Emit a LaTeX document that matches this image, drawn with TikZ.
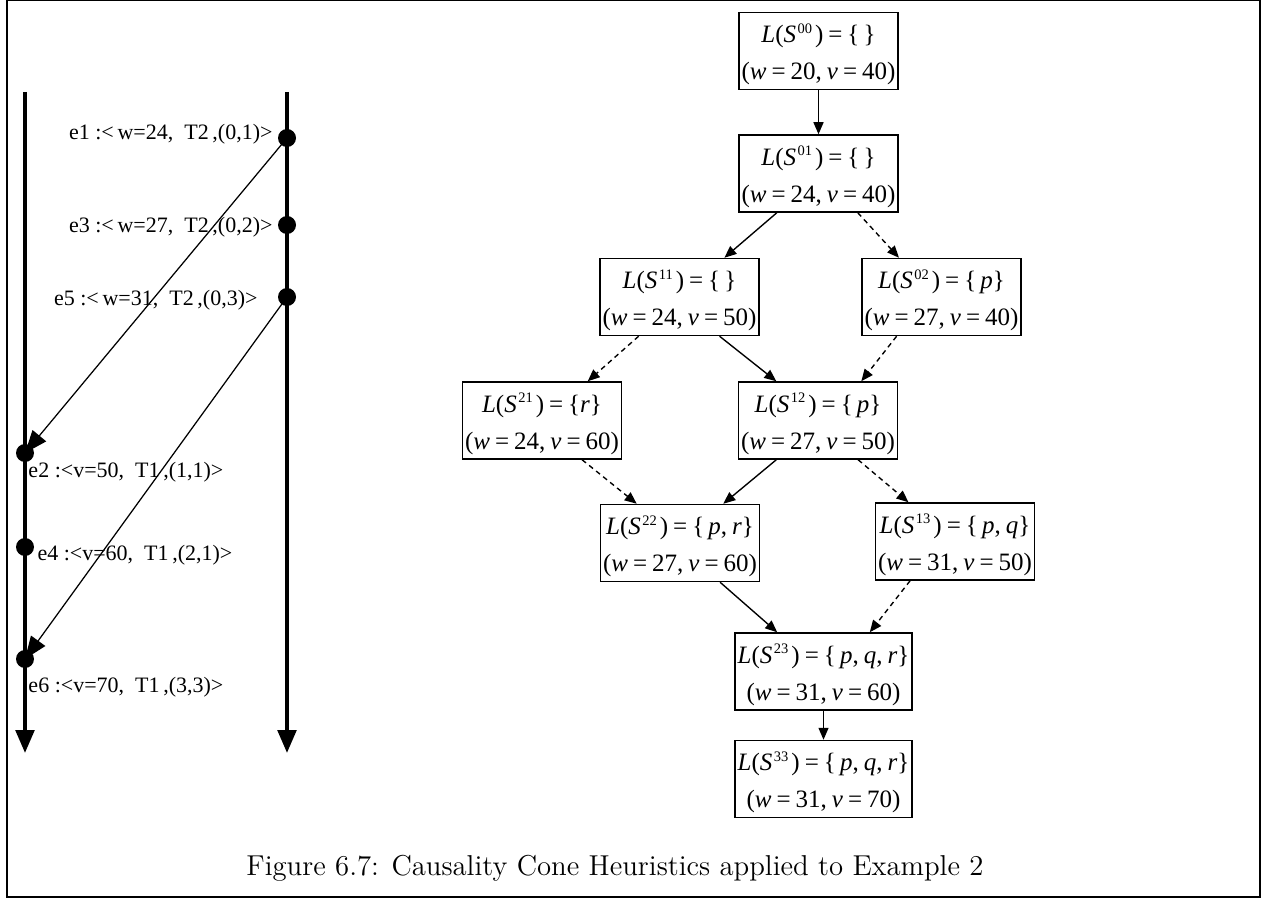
\documentclass[tikz,border=0pt]{standalone}
\usepackage{fontspec}
\newfontfamily\tms{Liberation Serif}
\usetikzlibrary{arrows.meta,calc}
\newdimen\upx \upx=0.4pt
\newcommand\iv[1]{{\itshape #1}}
\newcommand\sq[1]{\raisebox{0.85ex}{\fontsize{5.8}{6}\selectfont\kern0.6pt #1}\kern1.2pt}
\newcommand\tallstrut{\rule{0pt}{10.5pt}}
\newcommand\boxfont{\tms\fontsize{10}{14.8}\selectfont\spaceskip=2pt plus 0.5pt minus 0.3pt\relax}
\tikzset{
  state/.style={draw, line width=0.6pt, fill=white, align=center,
    font=\boxfont,
    minimum width=157\upx, minimum height=77\upx, inner xsep=1pt, inner ysep=1pt},
  widestate/.style={state, minimum width=169\upx},
  edge/.style={line width=0.55pt, -{Triangle[length=4.8pt,width=4pt]}},
  dedge/.style={edge, dash pattern=on 2pt off 1.6pt},
  tline/.style={line width=1.6pt, -{Triangle[length=9.2pt,width=7.4pt]}},
  msg/.style={line width=0.5pt, -{Triangle[length=9pt,width=7pt]}},
  evt/.style={circle, fill=black, minimum size=18\upx, inner sep=0pt},
  lbl/.style={font=\tms\fontsize{8.8}{10}\selectfont, inner sep=0pt}
}
\begin{document}
\begin{tikzpicture}[x=0.4pt,y=-0.4pt]
\useasboundingbox (0,0) rectangle (1265,898);
\draw[line width=0.8pt] (6.5,0.5) rectangle (1259.5,896.5);

% two process time lines
\coordinate (p1top) at (25,92);
\coordinate (p1end) at (25,753);
\coordinate (p2top) at (287,92);
\coordinate (p2end) at (287,753);
\draw[tline] (p1top) -- (p1end);
\draw[tline] (p2top) -- (p2end);

% events
\node[evt] (e1) at (287,138) {};
\node[evt] (e3) at (287,225) {};
\node[evt] (e5) at (287,297) {};
\node[evt] (e2) at (25,453) {};
\node[evt] (e4) at (25,547) {};
\node[evt] (e6) at (25,659) {};

% messages
\draw[msg] (e1.center) -- (e2.center);
\draw[msg] (e5.center) -- (e6.center);

% event labels
\node[lbl, anchor=base east] (l1) at (273,140) {e1 :<\,w=24,\ \ T2\,,(0,1)>};
\node[lbl, anchor=base east] (l3) at (273,233) {e3 :<\,w=27,\ \ T2\,,(0,2)>};
\node[lbl, anchor=base east] (l5) at (258,306) {e5 :<\,w=31,\ \ T2\,,(0,3)>};
\node[lbl, anchor=base west] (l2) at (28,477) {e2 :<v=50,\ \ T1\,,(1,1)>};
\node[lbl, anchor=base west] (l4) at (37,560) {e4 :<v=60,\ \ T1\,,(2,1)>};
\node[lbl, anchor=base west] (l6) at (28,692) {e6 :<v=70,\ \ T1\,,(3,3)>};

% lattice of states
\node[state] (S00) at (818.5,51) {\tallstrut\iv{L}(\iv{S}\sq{00}) = \{\,\}\\(\iv{w} = 20, \iv{v} = 40)};
\node[state] (S01) at (818.5,173.5) {\tallstrut\iv{L}(\iv{S}\sq{01}) = \{\,\}\\(\iv{w} = 24, \iv{v} = 40)};
\node[state] (S11) at (679.5,297) {\tallstrut\iv{L}(\iv{S}\sq{11}) = \{\,\}\\(\iv{w} = 24, \iv{v} = 50)};
\node[state] (S02) at (941.5,297) {\tallstrut\iv{L}(\iv{S}\sq{02}) = \{\,\iv{p}\}\\(\iv{w} = 27, \iv{v} = 40)};
\node[state] (S21) at (542,420.5) {\tallstrut\iv{L}(\iv{S}\sq{21}) = \{\iv{r}\}\\(\iv{w} = 24, \iv{v} = 60)};
\node[state] (S12) at (818,420.5) {\tallstrut\iv{L}(\iv{S}\sq{12}) = \{\,\iv{p}\}\\(\iv{w} = 27, \iv{v} = 50)};
\node[state] (S22) at (680,543) {\tallstrut\iv{L}(\iv{S}\sq{22}) = \{\,\iv{p}, \iv{r}\}\\(\iv{w} = 27, \iv{v} = 60)};
\node[state] (S13) at (955,541.5) {\tallstrut\iv{L}(\iv{S}\sq{13}) = \{\,\iv{p}, \iv{q}\}\\(\iv{w} = 31, \iv{v} = 50)};
\node[widestate] (S23) at (823.5,671.5) {\tallstrut\iv{L}(\iv{S}\sq{23}) = \{\,\iv{p}, \iv{q}, \iv{r}\}\\(\iv{w} = 31, \iv{v} = 60)};
\node[widestate] (S33) at (823.5,779) {\tallstrut\iv{L}(\iv{S}\sq{33}) = \{\,\iv{p}, \iv{q}, \iv{r}\}\\(\iv{w} = 31, \iv{v} = 70)};

% transitions
\draw[edge] (S00) -- (S01);
\draw[edge] ($(S01.south west)!0.24!(S01.south east)$) -- ($(S11.north west)!0.78!(S11.north east)$);
\draw[dedge] ($(S01.south west)!0.745!(S01.south east)$) -- ($(S02.north west)!0.235!(S02.north east)$);
\draw[dedge] ($(S11.south west)!0.245!(S11.south east)$) -- ($(S21.north west)!0.785!(S21.north east)$);
\draw[edge] ($(S11.south west)!0.75!(S11.south east)$) -- ($(S12.north west)!0.24!(S12.north east)$);
\draw[dedge] ($(S02.south west)!0.22!(S02.south east)$) -- ($(S12.north west)!0.77!(S12.north east)$);
\draw[dedge] ($(S21.south west)!0.75!(S21.south east)$) -- ($(S22.north west)!0.23!(S22.north east)$);
\draw[edge] ($(S12.south west)!0.24!(S12.south east)$) -- ($(S22.north west)!0.77!(S22.north east)$);
\draw[dedge] ($(S12.south west)!0.75!(S12.south east)$) -- ($(S13.north west)!0.21!(S13.north east)$);
\draw[edge] ($(S22.south west)!0.75!(S22.south east)$) -- ($(S23.north west)!0.24!(S23.north east)$);
\draw[dedge] ($(S13.south west)!0.22!(S13.south east)$) -- ($(S23.north west)!0.76!(S23.north east)$);
\draw[edge] (S23) -- (S33);

% caption
\node[font=\fontsize{11.5}{13}\selectfont, anchor=base, inner sep=0pt] (cap) at (615,875)
  {Figure 6.7: Causality Cone Heuristics applied to Example 2};
\end{tikzpicture}
\end{document}
